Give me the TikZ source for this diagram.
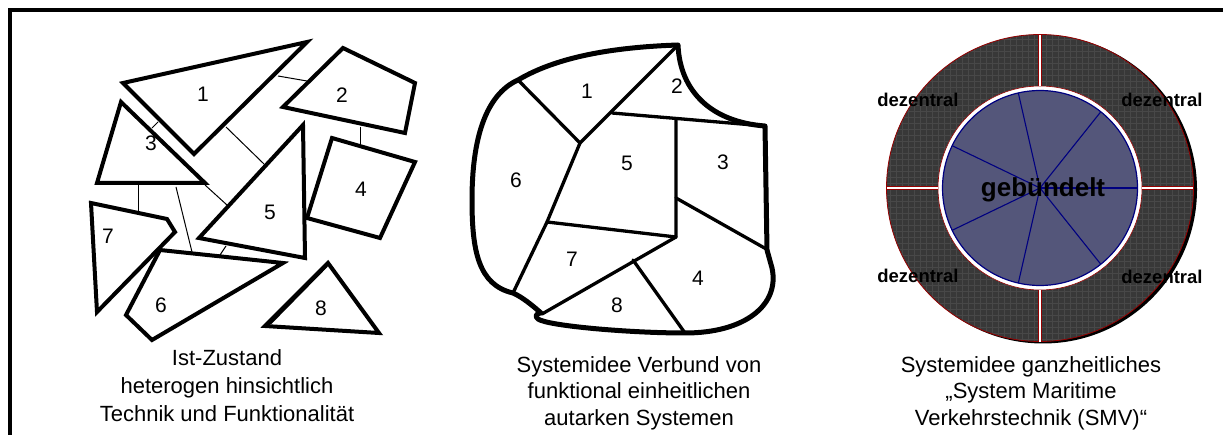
\documentclass[tikz,border=0pt]{standalone}
\usepackage{fontspec}
\setmainfont{Liberation Sans}
\definecolor{ringgray}{RGB}{56,56,56}
\definecolor{gridgray}{RGB}{72,72,72}
\definecolor{darkred}{RGB}{150,0,0}
\definecolor{discblue}{RGB}{84,86,122}
\definecolor{navyline}{RGB}{0,0,128}
\begin{document}
\begin{tikzpicture}[x=1pt,y=-1pt,
  piece/.style={line width=4pt, line join=miter},
  inner/.style={line width=3.3pt, line join=round, line cap=round},
  outer/.style={line width=5pt, line join=round, line cap=round},
  thinln/.style={line width=1pt},
  num/.style={font=\fontsize{21}{25}\selectfont, inner sep=0pt},
  captxt/.style={font=\fontsize{22}{27}\selectfont, inner sep=0pt, anchor=base},
  dez/.style={font=\bfseries\fontsize{18.5}{22}\selectfont, inner sep=0pt},
  cross/.style={draw=darkred, line width=0.6pt, double=white, double distance=2.2pt},
  spoke/.style={draw=navyline, line width=1.1pt}]
\useasboundingbox (0,0) rectangle (1223,435);
% frame
\draw[line width=4pt] (10,437) -- (10,10) -- (1225,10);

% ---------------- panel 1 ----------------
\draw[thinln] (278,76) -- (307,81);
\draw[thinln] (360,127) -- (360,144);
\draw[thinln] (152,128) -- (158,122);
\draw[thinln] (226,127) -- (264,164);
\draw[thinln] (205,185) -- (227,205);
\draw[thinln] (138,185) -- (138,212);
\draw[thinln] (176,187) -- (192,252);
\draw[thinln] (226,246) -- (220,255);
\draw[piece] (123,83) -- (307,42) -- (194,154) -- cycle;
\draw[piece] (283,107) -- (343,48) -- (415,83) -- (405,133) -- cycle;
\draw[piece] (121,102) -- (97,183) -- (205,183) -- cycle;
\draw[piece] (332,138) -- (415,162) -- (380,238) -- (307,218) -- cycle;
\draw[piece] (303,125) -- (199,238) -- (305,258) -- cycle;
\draw[piece] (160,250) -- (283,263) -- (152,340) -- (126,315) -- cycle;
\draw[piece] (91,203) -- (167,219) -- (175,232) -- (97,312) -- cycle;
\draw[piece] (328,263) -- (265,326) -- (379,333) -- cycle;
\draw[line width=2pt] (327,266) -- (270,324);
\node[num] (a1) at (203,94) {1};
\node[num] (a2) at (342,95) {2};
\node[num] (a3) at (151,143) {3};
\node[num] (a4) at (361,189) {4};
\node[num] (a5) at (270,212) {5};
\node[num] (a6) at (161,305) {6};
\node[num] (a7) at (108,236) {7};
\node[num] (a8) at (321,308) {8};
\node[captxt] (c1a) at (227,366) {Ist-Zustand};
\node[captxt] (c1b) at (227,393) {heterogen hinsichtlich};
\node[captxt] (c1c) at (227,421) {Technik und Funktionalität};

% ---------------- panel 2 ----------------
\draw[inner] (518,80) -- (580,143) -- (678,45);
\draw[inner] (580,143) -- (547,222) -- (513,293);
\draw[inner] (612,113) -- (765,126);
\draw[inner] (676,120) -- (676,237) -- (547,222);
\draw[inner] (676,198) -- (768,250);
\draw[inner] (676,237) -- (542,314);
\draw[inner] (633,260) -- (685,333);
\draw[outer] (518,80) .. controls (560,55) and (620,47) .. (678,45)
  .. controls (680,92) and (712,122) .. (765,126)
  -- (767,250) -- (772,268)
  .. controls (780,305) and (745,333) .. (685,333)
  .. controls (630,333) and (548,326) .. (538,319)
  .. controls (534,316) and (537,313) .. (541,313)
  .. controls (532,305) and (522,297) .. (513,293)
  .. controls (478,285) and (472,250) .. (472,200)
  .. controls (472,140) and (485,95) .. (518,80) -- cycle;
\node[num] (b1) at (587,91) {1};
\node[num] (b2) at (677,86) {2};
\node[num] (b3) at (723,162) {3};
\node[num] (b4) at (698,278) {4};
\node[num] (b5) at (627,163) {5};
\node[num] (b6) at (516,180) {6};
\node[num] (b7) at (572,259) {7};
\node[num] (b8) at (617,305) {8};
\node[captxt] (c2a) at (639,372) {Systemidee Verbund von};
\node[captxt] (c2b) at (639,398) {funktional einheitlichen};
\node[captxt] (c2c) at (639,425) {autarken Systemen};

% ---------------- panel 3 ----------------
\coordinate (ctr) at (1040,188);
\fill[black] (1043,189.5) circle (154);
\fill[ringgray] (ctr) circle (153.5);
\begin{scope}
  \clip (ctr) circle (153.5);
  \foreach \i in {0,...,52} {
    \draw[gridgray, line width=0.5pt] (884+6*\i,30) -- (884+6*\i,346);
    \draw[gridgray, line width=0.5pt] (884,33+6*\i) -- (1198,33+6*\i);
  }
\end{scope}
\draw[darkred, line width=0.8pt] (ctr) circle (153.5);
\fill[white] (ctr) circle (102);
\draw[darkred, line width=0.6pt] (ctr) circle (102);
\fill[discblue] (ctr) circle (97.5);
\foreach \a in {51.43,102.86,154.29,205.71,257.14,308.57}
  \draw[spoke] (ctr) -- ++(\a:97.5);
\draw[spoke, line width=2pt] (ctr) -- ++(0:97.5);
\draw[navyline, line width=1.2pt] (ctr) circle (97.5);
\draw[cross] (1040,35) -- (1040,86);
\draw[cross] (1040,290) -- (1040,342);
\draw[cross] (887,188) -- (938,188);
\draw[cross] (1142,188) -- (1193,188);
\node[dez] (d1) at (918,100) {dezentral};
\node[dez] (d2) at (1162,100) {dezentral};
\node[dez] (d3) at (918,276) {dezentral};
\node[dez] (d4) at (1162,277) {dezentral};
\node[font=\bfseries\fontsize{26}{30}\selectfont, inner sep=0pt] (g) at (1043,190) {gebündelt};
\node[captxt] (c3a) at (1031,372) {Systemidee ganzheitliches};
\node[captxt] (c3b) at (1031,398) {„System Maritime};
\node[captxt] (c3c) at (1031,425) {Verkehrstechnik (SMV)“};
\end{tikzpicture}
\end{document}
